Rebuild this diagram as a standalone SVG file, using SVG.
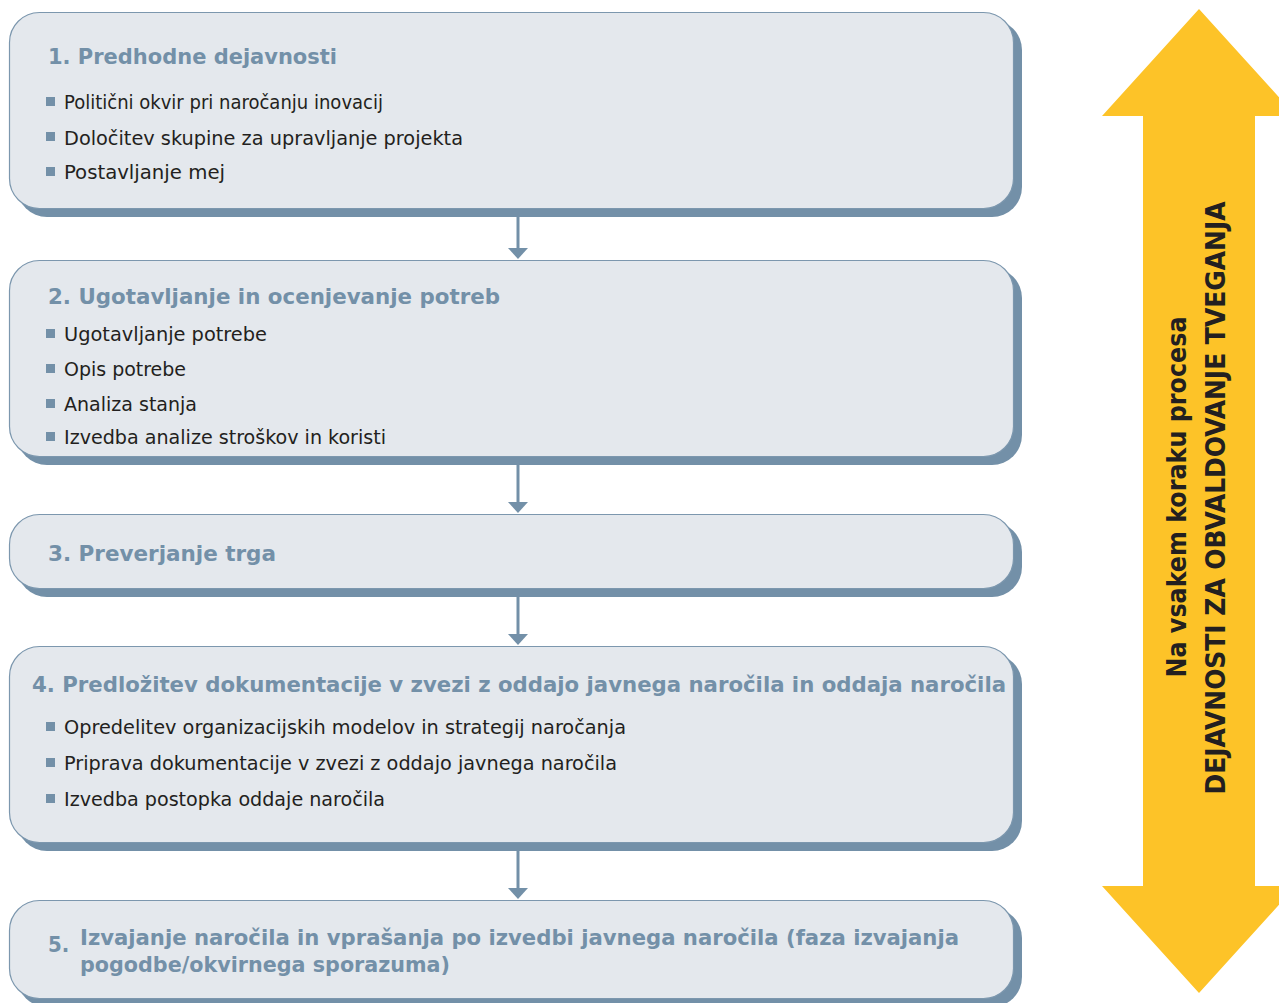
<svg xmlns="http://www.w3.org/2000/svg" width="1279" height="1003" viewBox="0 0 1279 1003">
<defs>
<style>
.box{fill:#E4E8ED;stroke:#7C97AE;stroke-width:1.2}
.shadow{fill:#7390A8}
.title{font-family:"DejaVu Sans Condensed","DejaVu Sans",sans-serif;font-weight:bold;font-size:22px;fill:#7390A8}
.item{font-family:"DejaVu Sans Condensed","DejaVu Sans",sans-serif;font-size:20px;fill:#231F20}
.bul{fill:#7390A8}
.conn{stroke:#7390A8;stroke-width:3;fill:none}
.head{fill:#7390A8}
.risk{font-family:"DejaVu Sans Condensed","DejaVu Sans",sans-serif;font-weight:bold;font-size:26px;fill:#231F20}
</style>
</defs>
<rect width="1279" height="1003" fill="#FFFFFF"/>

<g id="risk-arrow">
<polygon points="1199,9 1296,116 1255,116 1255,886 1296,886 1199,993 1102,886 1143,886 1143,116 1102,116" fill="#FDC328"/>
<text class="risk" transform="translate(1186,497) rotate(-90)" text-anchor="middle" textLength="361" lengthAdjust="spacingAndGlyphs">Na vsakem koraku procesa</text>
<text class="risk" transform="translate(1225,498) rotate(-90)" text-anchor="middle" textLength="593" lengthAdjust="spacingAndGlyphs">DEJAVNOSTI ZA OBVALDOVANJE TVEGANJA</text>
</g>

<g id="connectors">
<line class="conn" x1="518" y1="217" x2="518" y2="250"/>
<polygon class="head" points="508,248 528,248 518,259"/>
<line class="conn" x1="518" y1="465" x2="518" y2="504"/>
<polygon class="head" points="508,502 528,502 518,513"/>
<line class="conn" x1="518" y1="597" x2="518" y2="636"/>
<polygon class="head" points="508,634 528,634 518,645"/>
<line class="conn" x1="518" y1="851" x2="518" y2="890"/>
<polygon class="head" points="508,888 528,888 518,899"/>
</g>

<g id="node1">
<rect class="shadow" x="17" y="20" width="1005" height="197" rx="30"/>
<rect class="box" x="9.5" y="12.5" width="1004" height="196" rx="30"/>
<text class="title" x="48" y="64" textLength="289" lengthAdjust="spacingAndGlyphs">1. Predhodne dejavnosti</text>
<rect class="bul" x="46" y="97" width="9" height="9"/>
<text class="item" x="64" y="109" textLength="319" lengthAdjust="spacingAndGlyphs">Politični okvir pri naročanju inovacij</text>
<rect class="bul" x="46" y="132" width="9" height="9"/>
<text class="item" x="64" y="145" textLength="399" lengthAdjust="spacingAndGlyphs">Določitev skupine za upravljanje projekta</text>
<rect class="bul" x="46" y="167" width="9" height="9"/>
<text class="item" x="64" y="179" textLength="161" lengthAdjust="spacingAndGlyphs">Postavljanje mej</text>
</g>

<g id="node2">
<rect class="shadow" x="17" y="268" width="1005" height="197" rx="30"/>
<rect class="box" x="9.5" y="260.5" width="1004" height="196" rx="30"/>
<text class="title" x="48" y="304" textLength="452" lengthAdjust="spacingAndGlyphs">2. Ugotavljanje in ocenjevanje potreb</text>
<rect class="bul" x="46" y="329" width="9" height="9"/>
<text class="item" x="64" y="341" textLength="203" lengthAdjust="spacingAndGlyphs">Ugotavljanje potrebe</text>
<rect class="bul" x="46" y="364" width="9" height="9"/>
<text class="item" x="64" y="376" textLength="122" lengthAdjust="spacingAndGlyphs">Opis potrebe</text>
<rect class="bul" x="46" y="399" width="9" height="9"/>
<text class="item" x="64" y="411" textLength="133" lengthAdjust="spacingAndGlyphs">Analiza stanja</text>
<rect class="bul" x="46" y="432" width="9" height="9"/>
<text class="item" x="64" y="444" textLength="322" lengthAdjust="spacingAndGlyphs">Izvedba analize stroškov in koristi</text>
</g>

<g id="node3">
<rect class="shadow" x="17" y="522" width="1005" height="75" rx="30"/>
<rect class="box" x="9.5" y="514.5" width="1004" height="74" rx="30"/>
<text class="title" x="48" y="561" textLength="228" lengthAdjust="spacingAndGlyphs">3. Preverjanje trga</text>
</g>

<g id="node4">
<rect class="shadow" x="17" y="654" width="1005" height="197" rx="30"/>
<rect class="box" x="9.5" y="646.5" width="1004" height="196" rx="30"/>
<text class="title" x="32" y="692" textLength="974" lengthAdjust="spacingAndGlyphs">4. Predložitev dokumentacije v zvezi z oddajo javnega naročila in oddaja naročila</text>
<rect class="bul" x="46" y="722" width="9" height="9"/>
<text class="item" x="64" y="734" textLength="562" lengthAdjust="spacingAndGlyphs">Opredelitev organizacijskih modelov in strategij naročanja</text>
<rect class="bul" x="46" y="758" width="9" height="9"/>
<text class="item" x="64" y="770" textLength="553" lengthAdjust="spacingAndGlyphs">Priprava dokumentacije v zvezi z oddajo javnega naročila</text>
<rect class="bul" x="46" y="794" width="9" height="9"/>
<text class="item" x="64" y="806" textLength="321" lengthAdjust="spacingAndGlyphs">Izvedba postopka oddaje naročila</text>
</g>

<g id="node5">
<rect class="shadow" x="17" y="908" width="1005" height="99" rx="30"/>
<rect class="box" x="9.5" y="900.5" width="1004" height="98" rx="30"/>
<text class="title" x="48" y="952">5.</text>
<text class="title" x="80" y="945" textLength="879" lengthAdjust="spacingAndGlyphs">Izvajanje naročila in vprašanja po izvedbi javnega naročila (faza izvajanja</text>
<text class="title" x="80" y="972" textLength="370" lengthAdjust="spacingAndGlyphs">pogodbe/okvirnega sporazuma)</text>
</g>
</svg>
